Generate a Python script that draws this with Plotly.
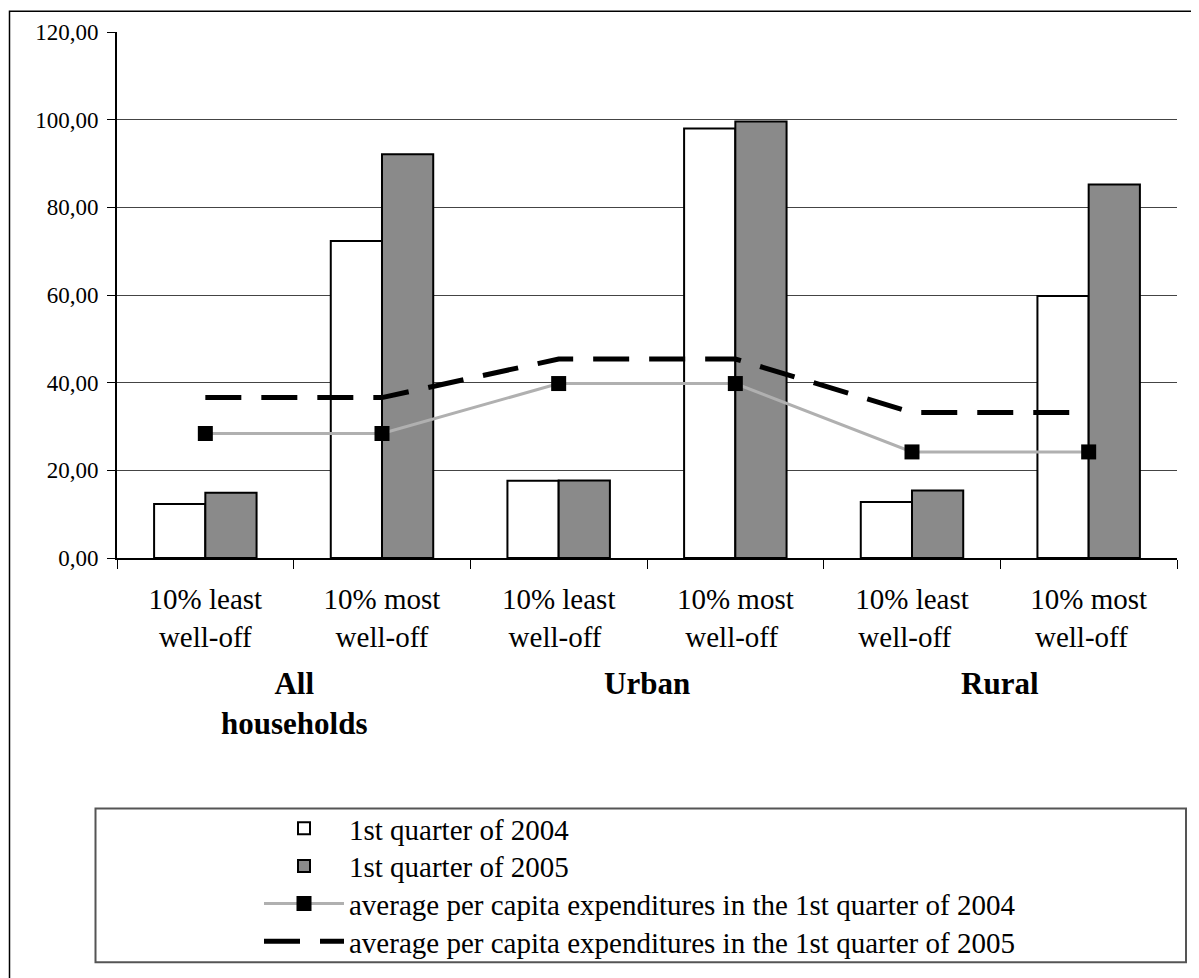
import plotly.graph_objects as go

categories = ["10% least<br>well-off", "10% most<br>well-off",
              "10% least<br>well-off ", "10% most<br>well-off ",
              "10% least<br>well-off  ", "10% most<br>well-off  "]
groups = ["All<br>households", "Urban", "Rural"]
q2004 = [12.3, 72.3, 17.6, 98.0, 12.8, 59.8]
q2005 = [14.9, 92.1, 17.7, 99.6, 15.4, 85.2]
avg2004 = [28.4, 28.4, 39.8, 39.8, 24.2, 24.2]
avg2005 = [36.6, 36.6, 45.4, 45.4, 33.2, 33.2]
series_names = ["1st quarter of 2004", "1st quarter of 2005",
                "average per capita expenditures in the 1st quarter of 2004",
                "average per capita expenditures in the 1st quarter of 2005"]

FONT = "Liberation Serif, Times New Roman, serif"

fig = go.Figure()
fig.add_trace(go.Bar(x=categories, y=q2004, name=series_names[0], legend="legend",
                     marker=dict(color="white", line=dict(color="black", width=2))))
fig.add_trace(go.Bar(x=categories, y=q2005, name=series_names[1], legend="legend2",
                     marker=dict(color="#8a8a8a", line=dict(color="black", width=2))))
fig.add_trace(go.Scatter(x=categories, y=avg2004, name=series_names[2], mode="lines+markers",
                         legend="legend3",
                         line=dict(color="#b0b0b0", width=3),
                         marker=dict(symbol="square", size=15, color="black")))
fig.add_trace(go.Scatter(x=categories, y=avg2005, name=series_names[3], mode="lines",
                         legend="legend4",
                         line=dict(color="black", width=5, dash="36px,20px")))

# page is offset by the 8px body margin
OFF = 8
W, H = 1199 - OFF, 978 - OFF
L, T = 117 - OFF, 32 - OFF
R = W - (1177 - OFF)
B = H - (563 - OFF)
pw, ph = W - L - R, H - T - B

def px(x):
    return (x - OFF - L) / pw

def py(y):
    return (H - B - (y - OFF)) / ph

annotations = []
for i, g in enumerate(groups):
    annotations.append(dict(x=2 * i + 0.5, xref="x", y=py(670), yref="paper",
                            text="<b>" + g + "</b>", showarrow=False,
                            xanchor="center", yanchor="top",
                            font=dict(family=FONT, size=31, color="black")))

shapes = [
    dict(type="rect", xref="paper", yref="paper", x0=px(9.5), x1=px(1230),
         y0=py(1010), y1=py(11), line=dict(color="black", width=1.5)),
    dict(type="rect", xref="paper", yref="paper", x0=px(95.5), x1=px(1186),
         y0=py(971), y1=py(816), line=dict(color="#555555", width=2)),
]

row_y = [836, 874, 912, 950]

def legend_at(yc):
    return dict(x=px(259), y=py(yc), xanchor="left", yanchor="middle",
                xref="paper", yref="paper",
                font=dict(family=FONT, size=29, color="black"),
                itemwidth=80, bgcolor="rgba(0,0,0,0)", borderwidth=0,
                tracegroupgap=0)

fig.update_layout(
    width=W, height=H,
    margin=dict(l=L, r=R, t=T, b=B),
    paper_bgcolor="white", plot_bgcolor="white",
    separators=",.",
    barmode="group", bargap=0.42, bargroupgap=0,
    font=dict(family=FONT, color="black"),
    showlegend=True,
    legend=legend_at(row_y[0]),
    legend2=legend_at(row_y[1]),
    legend3=legend_at(row_y[2]),
    legend4=legend_at(row_y[3]),
    annotations=annotations,
    shapes=shapes,
    xaxis=dict(type="category", showline=True, linecolor="black", linewidth=2,
               ticks="outside", tickson="boundaries", ticklen=9, tickcolor="black",
               tickwidth=1, showgrid=False, ticklabelstandoff=14,
               tickfont=dict(family=FONT, size=29, color="black")),
    yaxis=dict(range=[0, 120], dtick=20, tickformat=".2f", showline=True,
               linecolor="black", linewidth=2, ticks="outside", ticklen=8,
               tickcolor="black", showgrid=True, gridcolor="#444444", gridwidth=1,
               zeroline=False, ticklabelstandoff=4,
               tickfont=dict(family=FONT, size=23, color="black")),
)

fig.write_html("out.html")
